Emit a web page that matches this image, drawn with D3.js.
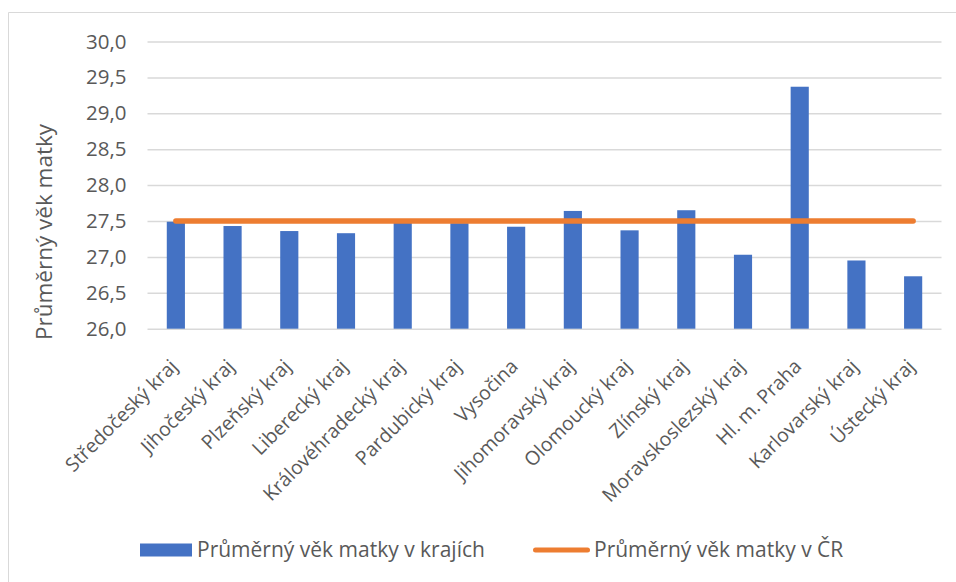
<!DOCTYPE html>
<html>
<head>
<meta charset="utf-8">
<script src="https://cdn.jsdelivr.net/npm/d3@7"></script>
<style>
  body { margin: 0; background: #fff; }
  svg text { fill: #595959; font-family: "Open Sans", sans-serif; }
</style>
</head>
<body>
<div id="chart"></div>
<script>
  // DATA
  const regions = [
    "Středočeský kraj", "Jihočeský kraj", "Plzeňský kraj", "Liberecký kraj",
    "Královéhradecký kraj", "Pardubický kraj", "Vysočina", "Jihomoravský kraj",
    "Olomoucký kraj", "Zlínský kraj", "Moravskoslezský kraj", "Hl. m. Praha",
    "Karlovarský kraj", "Ústecký kraj"
  ];
  const regionAge = [27.49, 27.43, 27.36, 27.33, 27.48, 27.47, 27.42, 27.64,
                     27.37, 27.65, 27.03, 29.37, 26.95, 26.73];
  const czAge = [27.5, 27.5, 27.5, 27.5, 27.5, 27.5, 27.5, 27.5,
                 27.5, 27.5, 27.5, 27.5, 27.5, 27.5];
  const yTicks = [26, 26.5, 27, 27.5, 28, 28.5, 29, 29.5, 30];
  const seriesNames = ["Průměrný věk matky v krajích", "Průměrný věk matky v ČR"];
  const yTitle = "Průměrný věk matky";

  const W = 956, H = 582;
  const margin = { top: 41.5, right: 14.5, bottom: 253.3, left: 147.5 };
  const width = W - margin.left - margin.right;
  const height = H - margin.top - margin.bottom;

  const svg = d3.select("#chart").append("svg")
    .attr("width", W).attr("height", H);

  // chart border
  svg.append("path")
    .attr("d", "M8.5," + (H + 5) + "V12.5H" + (W + 5))
    .attr("fill", "none").attr("stroke", "#d9d9d9").attr("stroke-width", 1);

  const g = svg.append("g")
    .attr("transform", "translate(" + margin.left + "," + margin.top + ")");

  const x = d3.scaleBand().domain(regions).range([0, width])
    .paddingInner(0.68).paddingOuter(0.34);
  const y = d3.scaleLinear().domain([26, 30]).range([height, 0]);

  // gridlines + y labels
  const yAxis = d3.axisLeft(y).tickValues(yTicks).tickSize(-width).tickPadding(21)
    .tickFormat(d => d3.format(".1f")(d).replace(".", ","));
  const ya = g.append("g").call(yAxis);
  ya.select(".domain").remove();
  ya.selectAll("line").attr("stroke", "#d9d9d9").attr("stroke-width", 1.5);
  ya.selectAll("text").style("font-size", "20.5px");

  // bars
  g.selectAll(".bar").data(regionAge).enter().append("rect")
    .attr("class", "bar")
    .attr("x", (d, i) => x(regions[i]))
    .attr("width", x.bandwidth())
    .attr("y", d => y(d))
    .attr("height", d => height - y(d))
    .attr("fill", "#4472c4");

  // line series
  const line = d3.line()
    .x((d, i) => x(regions[i]) + x.bandwidth() / 2)
    .y(d => y(d));
  g.append("path")
    .attr("d", line(czAge))
    .attr("fill", "none")
    .attr("stroke", "#ed7d31")
    .attr("stroke-width", 5.5)
    .attr("stroke-linecap", "round");

  // x labels
  const xa = g.append("g").attr("transform", "translate(0," + height + ")")
    .call(d3.axisBottom(x).tickSize(0));
  xa.select(".domain").remove();
  xa.selectAll("text")
    .style("font-size", "19.5px")
    .attr("text-anchor", "end")
    .attr("dy", "0.35em")
    .attr("transform", "translate(-4,32) rotate(-45)");

  // y title
  svg.append("text")
    .attr("transform", "translate(52,232) rotate(-90)")
    .attr("text-anchor", "middle")
    .style("font-size", "22.5px")
    .text(yTitle);

  // legend
  const leg = svg.append("g").attr("transform", "translate(0,550)");
  leg.append("rect").attr("x", 140).attr("y", -6.5).attr("width", 52).attr("height", 13)
    .attr("fill", "#4472c4");
  leg.append("text").attr("x", 197).attr("dy", "0.35em")
    .style("font-size", "21px").text(seriesNames[0]);
  leg.append("line").attr("x1", 535.5).attr("x2", 587.5).attr("y1", 0).attr("y2", 0)
    .attr("stroke", "#ed7d31").attr("stroke-width", 5).attr("stroke-linecap", "round");
  leg.append("text").attr("x", 594).attr("dy", "0.35em")
    .style("font-size", "21px").text(seriesNames[1]);
</script>
</body>
</html>
